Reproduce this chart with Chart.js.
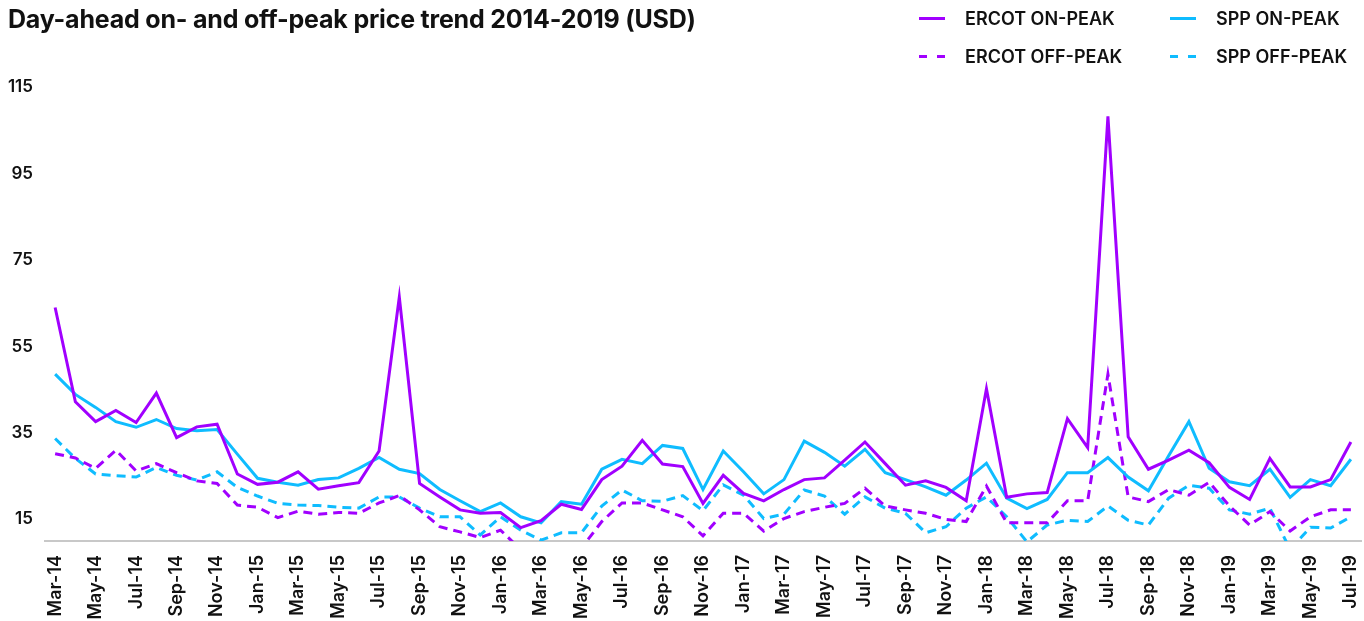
<!DOCTYPE html>
<html>
<head>
<meta charset="utf-8">
<script src="https://cdn.jsdelivr.net/npm/chart.js@4.4.0/dist/chart.umd.min.js"></script>
<style>
    html, body { margin: 0; padding: 0; background: #fff; }
    #wrap { position: relative; width: 1364px; height: 621px; font-family: Inter, "Noto Sans", sans-serif; color: #111; }
    #title { position: absolute; left: 8px; top: 4px; font-size: 25px; font-weight: 700; letter-spacing: -0.2px; }
    #legend { position: absolute; left: 919px; top: 6px; width: 440px; }
    .item { position: absolute; display: flex; align-items: center; font-size: 18px; font-weight: 600; }
    .swatch { width: 26px; height: 3px; margin-right: 20px; }
    canvas { position: absolute; left: 0; top: 0; }
</style>
</head>
<body>
<div id="wrap">
    <canvas id="chart" width="1364" height="621"></canvas>
    <div id="title">Day-ahead on- and off-peak price trend 2014-2019 (USD)</div>
    <div id="legend"></div>
</div>
<script>
const months = [
    'Mar-14','Apr-14','May-14','Jun-14','Jul-14','Aug-14','Sep-14','Oct-14','Nov-14','Dec-14',
    'Jan-15','Feb-15','Mar-15','Apr-15','May-15','Jun-15','Jul-15','Aug-15','Sep-15','Oct-15','Nov-15','Dec-15',
    'Jan-16','Feb-16','Mar-16','Apr-16','May-16','Jun-16','Jul-16','Aug-16','Sep-16','Oct-16','Nov-16','Dec-16',
    'Jan-17','Feb-17','Mar-17','Apr-17','May-17','Jun-17','Jul-17','Aug-17','Sep-17','Oct-17','Nov-17','Dec-17',
    'Jan-18','Feb-18','Mar-18','Apr-18','May-18','Jun-18','Jul-18','Aug-18','Sep-18','Oct-18','Nov-18','Dec-18',
    'Jan-19','Feb-19','Mar-19','Apr-19','May-19','Jun-19','Jul-19'
];

const ercotOnPeak = [
    64.0, 42.2, 37.6, 40.2, 37.4, 44.2, 33.9, 36.4, 37.0, 25.5,
    23.1, 23.6, 26.0, 22.0, 22.8, 23.5, 30.8, 66.4, 23.3, 20.2, 17.2, 16.4,
    16.6, 13.1, 14.7, 18.5, 17.3, 24.2, 27.3, 33.3, 27.8, 27.2, 18.7, 25.2,
    21.0, 19.3, 21.9, 24.2, 24.6, 28.7, 32.9, 27.9, 22.9, 23.9, 22.4, 19.3,
    45.2, 20.1, 20.9, 21.2, 38.3, 31.6, 108.2, 34.1, 26.6, 28.7, 31.0, 28.1,
    22.4, 19.6, 29.1, 22.5, 22.5, 24.2, 32.9
];
const sppOnPeak = [
    48.6, 43.9, 40.9, 37.6, 36.3, 38.1, 36.0, 35.5, 35.8, 30.1,
    24.5, 23.6, 22.9, 24.2, 24.6, 26.8, 29.3, 26.6, 25.6, 21.9, 19.3, 16.8,
    18.8, 15.6, 14.2, 19.1, 18.5, 26.6, 28.9, 27.9, 32.1, 31.4, 21.9, 30.8,
    26.0, 20.9, 24.2, 33.1, 30.5, 27.3, 31.2, 25.8, 24.2, 22.5, 20.6, 24.1,
    28.0, 19.9, 17.5, 19.6, 25.8, 25.8, 29.3, 24.8, 21.6, 29.7, 37.6, 26.8,
    23.7, 22.8, 26.6, 20.1, 24.2, 22.8, 28.9
];
const ercotOffPeak = [
    30.2, 29.2, 26.8, 31.0, 26.2, 27.9, 25.8, 23.9, 23.3, 18.3,
    17.8, 15.4, 16.9, 16.2, 16.6, 16.4, 18.8, 20.5, 17.2, 13.3, 12.1, 10.8,
    12.5, 8.0, 7.0, 7.5, 8.4, 14.5, 18.8, 18.8, 17.2, 15.6, 11.2, 16.4,
    16.4, 12.3, 15.2, 16.8, 17.8, 18.7, 22.2, 18.1, 17.2, 16.4, 15.0, 14.5,
    22.7, 14.2, 14.2, 14.2, 19.3, 19.3, 48.6, 20.2, 19.1, 21.9, 20.6, 23.6,
    18.1, 13.7, 16.8, 12.3, 15.6, 17.2, 17.2
];
const sppOffPeak = [
    33.7, 29.1, 25.5, 25.1, 24.8, 27.0, 25.2, 24.1, 26.0, 22.4,
    20.4, 18.7, 18.3, 18.2, 17.8, 17.6, 20.2, 20.2, 17.6, 15.6, 15.6, 11.4,
    15.6, 12.5, 10.2, 11.9, 11.9, 18.1, 21.8, 19.3, 19.2, 20.5, 17.0, 23.0,
    20.6, 15.2, 16.2, 21.8, 20.4, 16.2, 20.2, 17.6, 16.4, 11.9, 13.3, 17.6,
    20.2, 15.6, 9.8, 13.7, 14.8, 14.5, 18.1, 14.8, 13.7, 19.9, 22.9, 22.2,
    17.2, 16.2, 17.6, 8.0, 13.2, 13.0, 15.6
];
const yTicks = [15, 35, 55, 75, 95, 115];

const purple = '#A100FF';
const cyan = '#0FBCFF';

const series = [
    { label: 'ERCOT ON-PEAK', data: ercotOnPeak, color: purple, dash: [] },
    { label: 'SPP ON-PEAK', data: sppOnPeak, color: cyan, dash: [] },
    { label: 'ERCOT OFF-PEAK', data: ercotOffPeak, color: purple, dash: [9, 6] },
    { label: 'SPP OFF-PEAK', data: sppOffPeak, color: cyan, dash: [9, 6] }
];

// legend: two columns, on-peak on top row
const legendEl = document.getElementById('legend');
series.forEach((s, i) => {
    const item = document.createElement('div');
    item.className = 'item';
    item.style.left = (i % 2 === 0 ? 0 : 251) + 'px';
    item.style.top = (i < 2 ? 2 : 40) + 'px';
    const sw = document.createElement('div');
    sw.className = 'swatch';
    sw.style.background = s.dash.length
        ? `repeating-linear-gradient(90deg, ${s.color} 0 8px, transparent 8px 18px)`
        : s.color;
    item.appendChild(sw);
    item.appendChild(document.createTextNode(s.label));
    legendEl.appendChild(item);
});

new Chart(document.getElementById('chart'), {
    type: 'line',
    data: {
        labels: months,
        datasets: series.map(s => ({
            label: s.label,
            data: s.data,
            borderColor: s.color,
            backgroundColor: s.color,
            borderWidth: 3,
            borderDash: s.dash,
            pointRadius: 0,
            tension: 0,
            fill: false
        }))
    },
    options: {
        responsive: false,
        animation: false,
        layout: { padding: { top: 87, right: 3, left: 0, bottom: 0 } },
        plugins: {
            legend: { display: false },
            title: { display: false },
            tooltip: { enabled: false }
        },
        scales: {
            x: {
                offset: true,
                grid: { display: false, drawTicks: false },
                border: { display: true, color: '#c8c8c8', width: 2 },
                ticks: {
                    color: '#111',
                    font: { family: 'Inter', size: 18, weight: '600' },
                    padding: 14,
                    autoSkip: false,
                    minRotation: 90,
                    maxRotation: 90,
                    callback: function (val, idx) {
                        return idx % 2 === 0 ? this.getLabelForValue(val) : '';
                    }
                },
                afterFit: scale => {
                    scale.height = 80;
                    scale.paddingLeft = 0;
                    scale.paddingRight = 0;
                }
            },
            y: {
                min: 10,
                max: 115,
                grid: { display: false, drawTicks: false },
                border: { display: false },
                ticks: { color: '#111', font: { family: 'Inter', size: 17, weight: '600' }, padding: 12 },
                afterBuildTicks: scale => { scale.ticks = yTicks.map(v => ({ value: v })); },
                afterFit: scale => { scale.width = 45; }
            }
        }
    }
});
</script>
</body>
</html>
